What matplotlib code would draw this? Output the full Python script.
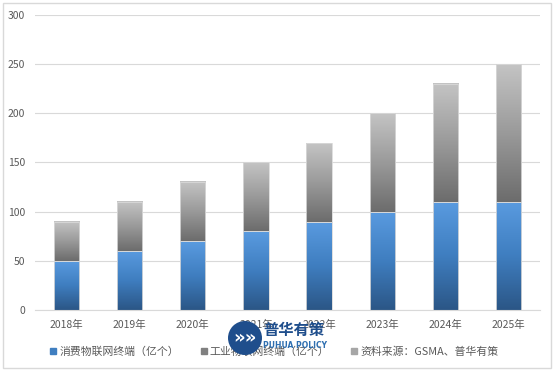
import numpy as np
import matplotlib.pyplot as plt
from matplotlib.colors import LinearSegmentedColormap
from matplotlib.patches import Rectangle, Circle

plt.rcParams['font.family'] = ['Noto Sans CJK SC', 'DejaVu Sans']

years = ['2018年', '2019年', '2020年', '2021年', '2022年', '2023年', '2024年', '2025年']
consumer = [50, 60, 70, 80, 90, 100, 110, 110]
industrial = [40, 50, 60, 70, 80, 100, 120, 140]
labels = ['消费物联网终端（亿个）', '工业物联网终端（亿个）', '资料来源：GSMA、普华有策']

blue_cm = LinearSegmentedColormap.from_list('b', ['#2b5686', '#3f7ec0', '#5a9be0'])
gray_cm = LinearSegmentedColormap.from_list('g', ['#6c6c6c', '#9a9a9a', '#c4c4c4'])
grad = np.linspace(0, 1, 256).reshape(-1, 1)

fig = plt.figure(figsize=(5.54, 3.71), dpi=100)
ax = fig.add_axes([0.063, 0.164, 0.912, 0.796])

w = 0.4
x = np.arange(len(years))

def grad_bar(xc, bottom, height, cmap):
    ax.imshow(grad, extent=[xc - w / 2, xc + w / 2, bottom, bottom + height],
              origin='lower', cmap=cmap, aspect='auto', zorder=2)
    ax.add_patch(Rectangle((xc - w / 2, bottom), w, height, fill=False,
                           edgecolor='#d9d9d9', linewidth=0.6, zorder=3))

for i in range(len(years)):
    grad_bar(x[i], 0, consumer[i], blue_cm)
    grad_bar(x[i], consumer[i], industrial[i], gray_cm)

ax.set_xlim(-0.5, len(years) - 0.5)
ax.set_ylim(0, 300)
ax.set_yticks(range(0, 301, 50))
ax.set_xticks(x)
ax.set_xticklabels(years)
ax.yaxis.grid(True, color='#d9d9d9', linewidth=0.8)
ax.set_axisbelow(True)
for s in ['top', 'right', 'left']:
    ax.spines[s].set_visible(False)
ax.spines['bottom'].set_color('#d9d9d9')
ax.tick_params(length=0, labelsize=7.5, colors='#595959', pad=7)

# legend
handles = [Rectangle((0, 0), 1, 1, color='#3f7ec0'),
           Rectangle((0, 0), 1, 1, color='#808080'),
           Rectangle((0, 0), 1, 1, color='#a6a6a6')]
leg = fig.legend(handles, labels, loc='center', bbox_to_anchor=(0.495, 0.052), ncol=3,
                 frameon=False, fontsize=7.8, handlelength=0.55, handleheight=0.55,
                 handletextpad=0.3, columnspacing=2.0)
for t in leg.get_texts():
    t.set_color('#595959')

# watermark logo
lx, ly = 245 / 554, 1 - 338 / 371
fig.patches.append(Circle((lx * 5.54 * 100, ly * 3.71 * 100), 17, transform=None,
                          facecolor='#1f4e8c', edgecolor='none', zorder=10))
fig.text(lx, ly, '»»', color='white', fontsize=13, fontweight='bold',
         ha='center', va='center', family=['DejaVu Sans'], zorder=11)
fig.text(263 / 554, 1 - 330 / 371, '普华有策', color='#1f4e8c', fontsize=11,
         fontweight='bold', ha='left', va='center', zorder=11)
fig.text(263 / 554, 1 - 345 / 371, 'PUHUA POLICY', color='#2f6fb0', fontsize=5.5,
         fontweight='bold', ha='left', va='center', family=['DejaVu Sans'], zorder=11)

# outer border
fig.patches.append(Rectangle((0.005, 0.008), 0.99, 0.984, transform=fig.transFigure,
                             fill=False, edgecolor='#d9d9d9', linewidth=1))

fig.savefig('out.png', dpi=100)
